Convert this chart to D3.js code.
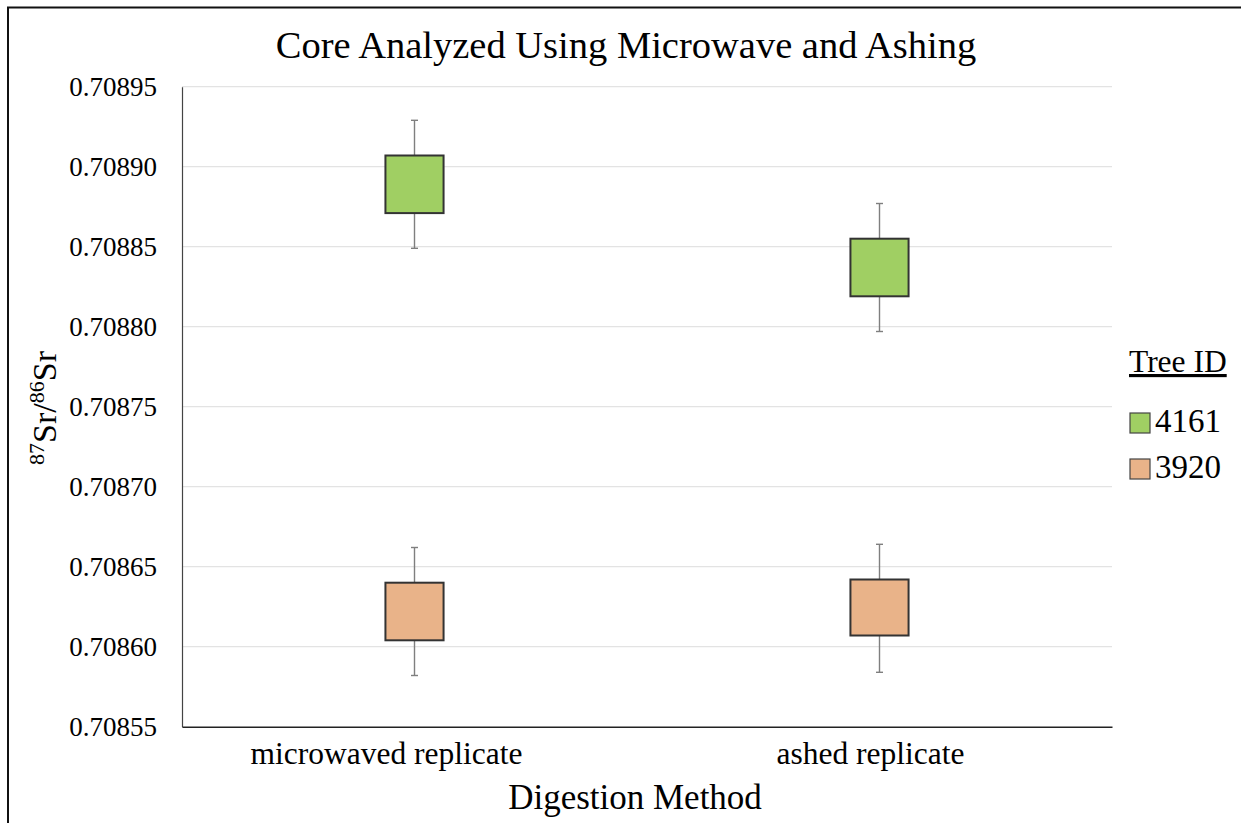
<!DOCTYPE html>
<html>
<head>
<meta charset="utf-8">
<script src="https://cdn.jsdelivr.net/npm/d3@7"></script>
<style>
  html, body { margin: 0; padding: 0; background: #fff; }
  svg { display: block; }
  text { font-family: "Liberation Serif", "Times New Roman", serif; fill: #000; }
</style>
</head>
<body>
<svg id="chart" width="1241" height="823"></svg>
<script>
// Digestion methods on the x axis
const categories = ["microwaved replicate", "ashed replicate"];
// Tree IDs (one box per tree per method)
const series = ["4161", "3920"];
const seriesColors = ["#A0CF63", "#E9B389"];

// 87Sr/86Sr ranges: whisker low, box low, box high, whisker high
const whiskerLow4161  = [0.708849, 0.708797];
const boxLow4161      = [0.708871, 0.708819];
const boxHigh4161     = [0.708907, 0.708855];
const whiskerHigh4161 = [0.708929, 0.708877];

const whiskerLow3920  = [0.708582, 0.708584];
const boxLow3920      = [0.708604, 0.708607];
const boxHigh3920     = [0.708640, 0.708642];
const whiskerHigh3920 = [0.708662, 0.708664];

const yTicks = [0.70855, 0.70860, 0.70865, 0.70870, 0.70875, 0.70880, 0.70885, 0.70890, 0.70895];

const svg = d3.select("#chart");
const W = 1241, H = 823;
const plot = { left: 182, right: 1112, top: 86.7, bottom: 726.7 };

// outer frame (top and left edges visible)
svg.append("path")
  .attr("d", `M8,${H} L8,7.5 L${W},7.5`)
  .attr("fill", "none").attr("stroke", "#111").attr("stroke-width", 2);

const x = d3.scaleBand().domain(categories).range([plot.left, plot.right]).padding(0);
const y = d3.scaleLinear().domain([0.70855, 0.70895]).range([plot.bottom, plot.top]);

// horizontal gridlines
svg.append("g")
  .selectAll("line").data(yTicks.slice(1)).join("line")
  .attr("x1", plot.left).attr("x2", plot.right)
  .attr("y1", d => y(d)).attr("y2", d => y(d))
  .attr("stroke", "#e3e3e3").attr("stroke-width", 1.2);

// y axis
const yAxis = svg.append("g")
  .attr("transform", `translate(${plot.left},0)`)
  .call(d3.axisLeft(y).tickValues(yTicks).tickFormat(d3.format(".5f")).tickSize(0).tickPadding(25));
yAxis.select(".domain").attr("stroke", "#444").attr("stroke-width", 1.2);
yAxis.selectAll("text").attr("font-size", 27).attr("font-family", "Liberation Serif").attr("fill", "#000");

// x axis
const labelShift = [-28, -9];
const xAxis = svg.append("g")
  .attr("transform", `translate(0,${plot.bottom})`)
  .call(d3.axisBottom(x).tickSize(0).tickPadding(15));
xAxis.select(".domain").attr("stroke", "#222").attr("stroke-width", 1.5);
xAxis.selectAll("text")
  .attr("font-size", 31.5).attr("font-family", "Liberation Serif").attr("fill", "#000")
  .attr("dx", (d, i) => labelShift[i]);

// boxes with whiskers
const groups = [
  { low: whiskerLow4161, bLow: boxLow4161, bHigh: boxHigh4161, high: whiskerHigh4161, color: seriesColors[0] },
  { low: whiskerLow3920, bLow: boxLow3920, bHigh: boxHigh3920, high: whiskerHigh3920, color: seriesColors[1] }
];
const boxW = x.bandwidth() * 0.125;
const capW = 7;

groups.forEach(g => {
  const gEl = svg.append("g");
  categories.forEach((c, i) => {
    const cx = x(c) + x.bandwidth() / 2;
    // whisker stems
    gEl.append("line")
      .attr("x1", cx).attr("x2", cx)
      .attr("y1", y(g.high[i])).attr("y2", y(g.bHigh[i]))
      .attr("stroke", "#7f7f7f").attr("stroke-width", 1.4);
    gEl.append("line")
      .attr("x1", cx).attr("x2", cx)
      .attr("y1", y(g.bLow[i])).attr("y2", y(g.low[i]))
      .attr("stroke", "#7f7f7f").attr("stroke-width", 1.4);
    // caps
    [g.high[i], g.low[i]].forEach(v => {
      gEl.append("line")
        .attr("x1", cx - capW / 2).attr("x2", cx + capW / 2)
        .attr("y1", y(v)).attr("y2", y(v))
        .attr("stroke", "#7f7f7f").attr("stroke-width", 1.4);
    });
    // box
    gEl.append("rect")
      .attr("x", cx - boxW / 2).attr("width", boxW)
      .attr("y", y(g.bHigh[i])).attr("height", y(g.bLow[i]) - y(g.bHigh[i]))
      .attr("fill", g.color).attr("stroke", "#333").attr("stroke-width", 2);
  });
});

// title
svg.append("text")
  .attr("x", 626).attr("y", 58)
  .attr("text-anchor", "middle").attr("font-size", 38.5)
  .text("Core Analyzed Using Microwave and Ashing");

// x axis title
svg.append("text")
  .attr("x", 635).attr("y", 809)
  .attr("text-anchor", "middle").attr("font-size", 35)
  .text("Digestion Method");

// y axis title with superscript isotope numbers
const yt = svg.append("text")
  .attr("transform", "translate(56,408) rotate(-90)")
  .attr("text-anchor", "middle").attr("font-size", 34);
yt.append("tspan").attr("font-size", 22).attr("dy", -12).text("87");
yt.append("tspan").attr("dy", 12).text("Sr/");
yt.append("tspan").attr("font-size", 22).attr("dy", -12).text("86");
yt.append("tspan").attr("dy", 12).text("Sr");

// legend
const legend = svg.append("g");
legend.append("text")
  .attr("x", 1129).attr("y", 372).attr("font-size", 31.5)
  .attr("text-decoration", "underline")
  .text("Tree ID");
series.forEach((s, i) => {
  const ly = 413 + i * 46;
  legend.append("rect")
    .attr("x", 1130).attr("y", ly).attr("width", 20).attr("height", 20)
    .attr("fill", seriesColors[i]).attr("stroke", "#444").attr("stroke-width", 1.2);
  legend.append("text")
    .attr("x", 1155).attr("y", ly + 19).attr("font-size", 33)
    .text(s);
});
</script>
</body>
</html>
